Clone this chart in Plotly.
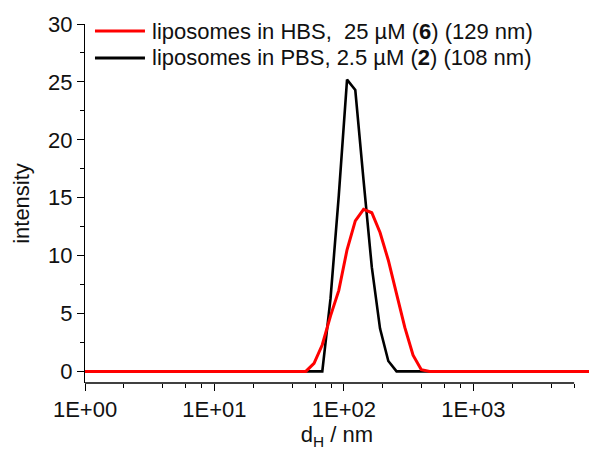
import plotly.graph_objects as go

# DLS size bins (nm) and intensity distributions (%)
size_nm = [0.4, 50.75, 58.77, 68.06, 78.82, 91.28, 105.7, 122.4, 141.8, 164.2,
           190.1, 220.2, 255.0, 295.3, 342.0, 396.1, 458.7, 10000]
hbs_intensity = [0, 0, 0.7, 2.3, 4.8, 7.0, 10.5, 13.0, 14.0, 13.7,
                 12.0, 9.6, 6.7, 3.8, 1.4, 0.15, 0, 0]
pbs_intensity = [0, 0, 0, 0, 6.3, 15.2, 25.2, 24.3, 16.5, 9.0,
                 3.7, 0.9, 0, 0, 0, 0, 0, 0]

series_names = ["liposomes in HBS,\u00a0 25 µM (<b>6</b>) (129 nm)",
                "liposomes in PBS, 2.5 µM (<b>2</b>) (108 nm)"]
series_colors = ["#ff0000", "#000000"]

x_major = [1, 10, 100, 1000]
x_major_text = ["1E+00", "1E+01", "1E+02", "1E+03"]
x_minor = [2, 4, 6, 8, 20, 40, 60, 80, 200, 400, 600, 800, 2000, 4000, 6000]
x_axis_start = 1
x_axis_end = 6000

FONT = "Liberation Sans, Arial, sans-serif"
FS = 22

fig = go.Figure()
fig.add_trace(go.Scatter(x=size_nm, y=pbs_intensity, mode="lines",
                         line=dict(color=series_colors[1], width=2.6),
                         showlegend=False))
fig.add_trace(go.Scatter(x=size_nm, y=hbs_intensity, mode="lines",
                         line=dict(color=series_colors[0], width=3),
                         showlegend=False))

# manual legend
leg_y = [0.9805, 0.9053]
for name, col, yy in zip(series_names, series_colors, leg_y):
    fig.add_shape(type="line", xref="paper", yref="paper",
                  x0=0.0198, x1=0.119, y0=yy, y1=yy,
                  line=dict(color=col, width=3.2))
    fig.add_annotation(xref="paper", yref="paper", x=0.129, y=yy,
                       text=name, showarrow=False, xanchor="left",
                       yanchor="middle", font=dict(family=FONT, size=FS, color="#111"))

# bottom axis line ending at 6000
fig.add_shape(type="line", xref="x", yref="paper",
              x0=x_axis_start, x1=x_axis_end, y0=0, y1=0,
              line=dict(color="black", width=1.4))

fig.update_xaxes(type="log", range=[0, 3.893],
                 tickmode="array", tickvals=x_major, ticktext=x_major_text,
                 ticks="outside", ticklen=7, tickwidth=1.3, tickcolor="black",
                 minor=dict(tickmode="array", tickvals=x_minor, ticks="outside",
                            ticklen=4, tickwidth=1.2, tickcolor="black", showgrid=False),
                 showline=False, showgrid=False, zeroline=False,
                 tickfont=dict(family=FONT, size=FS, color="#111"),
                 title=dict(text="d<sub>H</sub> / nm", standoff=10,
                            font=dict(family=FONT, size=FS, color="#111")))
fig.update_yaxes(range=[-1, 30], tickmode="linear", tick0=0, dtick=5,
                 ticks="outside", ticklen=7, tickwidth=1.3, tickcolor="black",
                 minor=dict(dtick=2.5, ticks="outside", ticklen=4, tickwidth=1.2,
                            tickcolor="black", showgrid=False),
                 showline=True, linecolor="black", linewidth=1.4,
                 showgrid=False, zeroline=False,
                 tickfont=dict(family=FONT, size=FS, color="#111"),
                 title=dict(text="intensity", standoff=12,
                            font=dict(family=FONT, size=FS, color="#111")))

fig.update_layout(width=589, height=450,
                  margin=dict(l=85, r=0, t=24, b=67),
                  plot_bgcolor="white", paper_bgcolor="white",
                  font=dict(family=FONT))

fig.write_html("out.html")
